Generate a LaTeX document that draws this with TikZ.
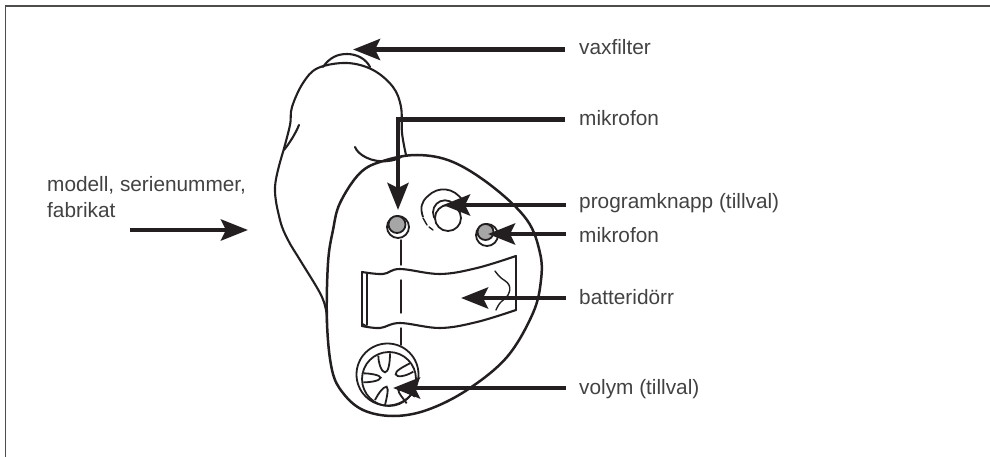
\documentclass[tikz,border=0pt]{standalone}
\usepackage{fontspec}
\setmainfont{Liberation Sans}
\usetikzlibrary{arrows.meta}
\definecolor{ink}{HTML}{231F20}
\tikzset{x=1pt,y=-1pt,
 outl/.style={line width=2.1pt,line cap=round,line join=round,ink},
 fine/.style={line width=1.4pt,line cap=round,line join=round,ink},
 callout/.style={line width=4.8pt,ink,-{Stealth[length=27pt,width=21pt,inset=5pt]}},
 lab/.style={anchor=base west,inner sep=0pt,font=\fontsize{20.8}{24}\selectfont,text=ink!85},
 btn/.style={line width=1.8pt,ink}}
\begin{document}
\begin{tikzpicture}
\useasboundingbox (0,0) rectangle (990,457);
\draw[line width=1.5pt,ink!80] (5.5,457) -- (5.5,6) -- (990,6);
% wax filter
\draw[outl] (323,67) .. controls (330,57) and (338,54) .. (347,54) .. controls (357,54) and (366,59) .. (370,67);
% ear part
\draw[outl] plot[smooth,tension=0.6] coordinates {(283,152) (290,125) (292,107) (303,83) (318,68) (347,63) (373,70) (393,87) (401,107) (402,133) (406,155)};
\draw[outl] (284,150) .. controls (288,145) and (295,135) .. (299,125);
\draw[outl] (355,147) .. controls (358,155) and (372,163) .. (388,161) .. controls (393,160.5) and (398,159) .. (401,157);
\draw[outl] plot[smooth,tension=0.6] coordinates {(283,152) (275,187) (280,220) (288,240) (300,260) (320,293) (326,310) (327,323)};
% face
\draw[line width=2.5pt,ink,line join=round] plot[smooth cycle,tension=0.6] coordinates {(333,230) (340,203) (360,173) (383,161) (417,155) (453,162) (493,187) (527,220) (540,253) (541,280) (533,313) (507,357) (467,390) (427,410) (393,416) (363,410) (343,393) (332,370) (327,323) (328,263)};
% dashed centre line
\draw[fine] (401,240) -- (401,265);
\draw[fine] (401,280) -- (401,313);
\draw[fine] (401,328) -- (401,345);
% left mic
\draw[btn,fill=white] (398,227) circle (11);
\draw[btn,fill=black!35] (397,224.5) circle (8.5);
% program button
\draw[btn] (423,217) .. controls (420,208) and (421,202) .. (428,196) .. controls (438,186) and (454,187) .. (463,201);
\draw[fine] (423,218) -- (427,225);
\draw[fine] (429,227) -- (433,230);
\draw[btn] (445,212.3) circle (12);
\draw[btn,fill=white] (448,218) circle (13);
% right mic
\draw[btn,fill=white] (487,235) circle (11);
\draw[btn,fill=black!35] (485.5,232) circle (8);
% door
\draw[outl] plot[smooth,tension=0.6] coordinates {(362,272) (383,274) (400,269) (440,274) (477,268) (516,256)};
\draw[outl] (362,272) -- (362,326);
\draw[fine] (367,272.5) -- (367,325);
\draw[outl] (516,256) -- (516,310);
\draw[outl] plot[smooth,tension=0.6] coordinates {(362,326) (380,328) (400,323) (440,328) (477,322) (516,310)};
\draw[fine] (363,324) -- (368,327);
\draw[fine] plot[smooth,tension=0.7] coordinates {(495,271) (500,277) (509,285) (508,295) (500,303) (496,310)};
% wheel
\draw[btn] (387.5,374.5) circle (31);
\draw[btn] (389,379) circle (27);
\begin{scope}[shift={(345,335)},x=0.3333pt,y=-0.3333pt]
\draw[btn] (100,62) .. controls (100,85) and (110,112) .. (120,112) .. controls (130,112) and (135,85) .. (135,55);
\draw[btn] (205,110) .. controls (180,125) and (155,128) .. (152,118) .. controls (150,108) and (175,95) .. (195,85);
\draw[btn] (55,115) .. controls (75,115) and (105,120) .. (107,128) .. controls (105,138) and (75,142) .. (55,142);
\draw[btn] (90,195) .. controls (100,175) and (115,155) .. (125,155) .. controls (132,160) and (125,190) .. (120,210);
\draw[btn] (185,205) .. controls (175,190) and (160,175) .. (160,165) .. controls (170,160) and (195,175) .. (210,185);
\end{scope}
% connector ends
\coordinate (t1) at (353,49.5);
\coordinate (s1) at (565,49.5);
\coordinate (j) at (398,119.5);
\coordinate (s2) at (565,119.5);
\coordinate (t2) at (398,210);
\coordinate (s3) at (566,205);
\coordinate (t3) at (443,205);
\coordinate (s4) at (566,234);
\coordinate (t4) at (488,234);
\coordinate (s5) at (566,298);
\coordinate (t5) at (461,298);
\coordinate (s6) at (566,388);
\coordinate (t6) at (393,388);
\coordinate (s7) at (130,230);
\coordinate (t7) at (248,230);
\draw[callout] (s1) -- (t1);
\draw[callout,line join=miter] (s2) -- (j) -- (t2);
\draw[callout] (s3) -- (t3);
\draw[callout] (s4) -- (t4);
\draw[callout] (s5) -- (t5);
\draw[callout] (s6) -- (t6);
\draw[callout] (s7) -- (t7);
\node[lab] (l1) at (579,55) {vaxfilter};
\node[lab] (l2) at (579,126) {mikrofon};
\node[lab] (l3) at (579,208) {programknapp (tillval)};
\node[lab] (l4) at (579,242) {mikrofon};
\node[lab] (l5) at (579,304) {batteridörr};
\node[lab] (l6) at (579,394) {volym (tillval)};
\node[lab] (l7) at (47,192) {modell, serienummer,};
\node[lab] (l8) at (47,218) {fabrikat};
\end{tikzpicture}
\end{document}
